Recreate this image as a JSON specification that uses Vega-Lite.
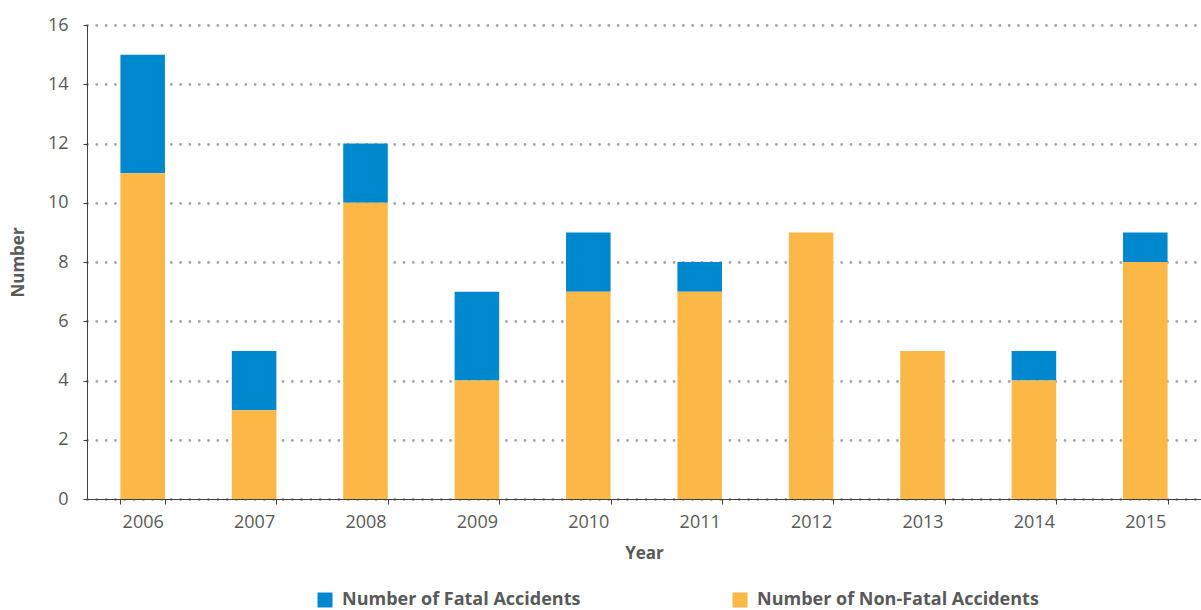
{
  "$schema": "https://vega.github.io/schema/vega-lite/v6.json",
  "width": 1114,
  "height": 474,
  "autosize": {"type": "none"},
  "padding": {"left": 87, "top": 25, "right": 0, "bottom": 111},
  "background": "white",
  "config": {
    "view": {"stroke": null},
    "font": "Open Sans",
    "axis": {
      "labelColor": "#595959",
      "titleColor": "#595959",
      "domainColor": "#404040",
      "tickColor": "#404040",
      "labelFont": "Open Sans",
      "titleFont": "Open Sans"
    }
  },
  "data": {
    "values": [
      {"year": "2006", "series": "Number of Fatal Accidents", "value": 4},
      {"year": "2006", "series": "Number of Non-Fatal Accidents", "value": 11},
      {"year": "2007", "series": "Number of Fatal Accidents", "value": 2},
      {"year": "2007", "series": "Number of Non-Fatal Accidents", "value": 3},
      {"year": "2008", "series": "Number of Fatal Accidents", "value": 2},
      {"year": "2008", "series": "Number of Non-Fatal Accidents", "value": 10},
      {"year": "2009", "series": "Number of Fatal Accidents", "value": 3},
      {"year": "2009", "series": "Number of Non-Fatal Accidents", "value": 4},
      {"year": "2010", "series": "Number of Fatal Accidents", "value": 2},
      {"year": "2010", "series": "Number of Non-Fatal Accidents", "value": 7},
      {"year": "2011", "series": "Number of Fatal Accidents", "value": 1},
      {"year": "2011", "series": "Number of Non-Fatal Accidents", "value": 7},
      {"year": "2012", "series": "Number of Fatal Accidents", "value": 0},
      {"year": "2012", "series": "Number of Non-Fatal Accidents", "value": 9},
      {"year": "2013", "series": "Number of Fatal Accidents", "value": 0},
      {"year": "2013", "series": "Number of Non-Fatal Accidents", "value": 5},
      {"year": "2014", "series": "Number of Fatal Accidents", "value": 1},
      {"year": "2014", "series": "Number of Non-Fatal Accidents", "value": 4},
      {"year": "2015", "series": "Number of Fatal Accidents", "value": 1},
      {"year": "2015", "series": "Number of Non-Fatal Accidents", "value": 8}
    ]
  },
  "mark": {"type": "bar"},
  "encoding": {
    "x": {
      "field": "year",
      "type": "nominal",
      "title": "Year",
      "scale": {"paddingInner": 0.6, "paddingOuter": 0.3},
      "axis": {
        "labelAngle": 0,
        "labelFontSize": 18,
        "labelPadding": 9,
        "tickBand": "extent",
        "tickSize": 5,
        "titleFontSize": 17,
        "titleFontWeight": "bold",
        "titlePadding": 14,
        "grid": false
      }
    },
    "y": {
      "field": "value",
      "type": "quantitative",
      "stack": "zero",
      "title": "Number",
      "scale": {"domain": [0, 16], "nice": false},
      "axis": {
        "values": [0, 2, 4, 6, 8, 10, 12, 14, 16],
        "labelFontSize": 18,
        "labelPadding": 15,
        "tickSize": 4,
        "titleFontSize": 17,
        "titleFontWeight": "bold",
        "titlePadding": 20,
        "grid": true,
        "gridColor": "#A6A6A6",
        "gridWidth": 2.8,
        "gridCap": "round",
        "gridDash": [0.01, 9.3]
      }
    },
    "color": {
      "field": "series",
      "type": "nominal",
      "scale": {
        "domain": ["Number of Fatal Accidents", "Number of Non-Fatal Accidents"],
        "range": ["#0088CF", "#FBB846"]
      },
      "legend": {
        "title": null,
        "orient": "none",
        "legendX": 229,
        "legendY": 566,
        "direction": "horizontal",
        "symbolType": "square",
        "symbolSize": 225,
        "symbolStrokeWidth": 0,
        "labelFontSize": 18,
        "labelFontWeight": "bold",
        "labelColor": "#595959",
        "labelFont": "Open Sans",
        "labelLimit": 400,
        "labelOffset": 8,
        "columnPadding": 150
      }
    },
    "order": {"field": "series", "sort": "descending"}
  }
}
